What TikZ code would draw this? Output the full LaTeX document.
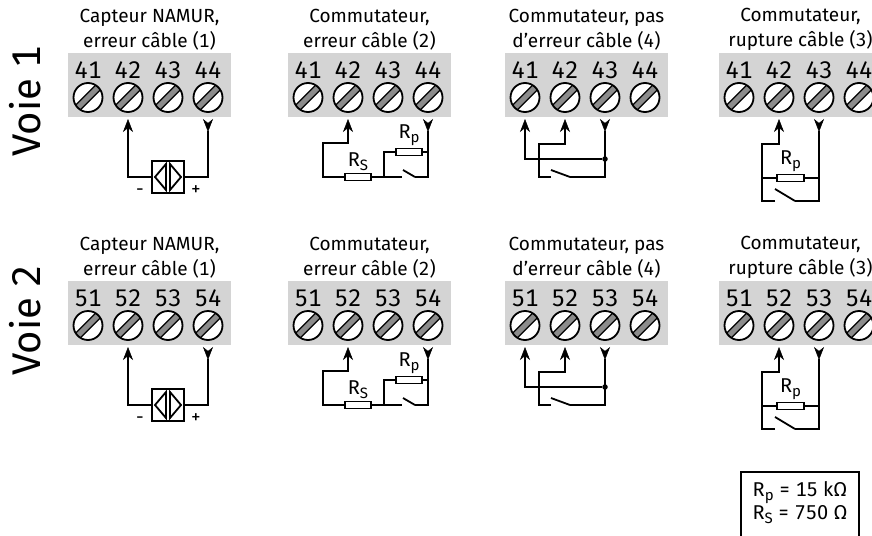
\documentclass[tikz,border=0pt]{standalone}
\usepackage{fontspec}
\setmainfont{Fira Sans}[Numbers={Lining,Monospaced}]
\usetikzlibrary{arrows.meta,positioning,calc}
\tikzset{
  every node/.append style={font=\fontsize{19}{25}\selectfont},
}
\tikzset{
  title/.style={align=center, font=\fontsize{19}{25}\selectfont},
  termno/.style={font=\fontsize{24}{24}\selectfont},
  screw/.style={circle, draw, fill=white, line width=1.8pt, minimum size=29pt, inner sep=0pt,
    path picture={
      \draw[line width=8pt] (path picture bounding box.south west) -- (path picture bounding box.north east);
      \draw[line width=5pt, black!45] (path picture bounding box.south west) -- (path picture bounding box.north east);
    }},
  wire/.style={line width=1.8pt},
  tipup/.style={-{Stealth[length=13pt,width=10pt,inset=4pt,line width=0.5pt]}},
  tipdown/.style={{Stealth[length=13pt,width=10pt,inset=4pt,line width=0.5pt,reversed]}-},
  res/.style={draw, line width=1.6pt, minimum width=26pt, minimum height=7pt, inner sep=0pt, fill=white},
  sensor/.style={draw, line width=1.8pt, minimum size=32pt, inner sep=0pt},
  rlabel/.style={font=\fontsize{20}{22}\selectfont, inner sep=1pt},
  jdot/.style={circle, fill, inner sep=0pt, minimum size=5.5pt},
  voie/.style={rotate=90, font=\fontsize{40}{40}\selectfont},
}
% lowered index of R
\newcommand\rsub[1]{\raisebox{-0.4ex}{\fontsize{15}{15}\selectfont #1}}
% terminal block: #1 first digit, #2 and #3 title lines
\newcommand\termblock[3]{%
  \fill[black!17] (0,53) rectangle (163,117);
  \node[title] (head) at (81.5,29.5) {#2\\#3};
  \foreach \i in {1,...,4} {
    \node[screw] (s\i) at (\i*40-20,97.5) {};
    \node[termno] (n\i) at (\i*40-20,70) {#1\i};
  }
}

\begin{document}
\begin{tikzpicture}[x=1pt, y=-1pt]
\useasboundingbox (0,0) rectangle (872,535);
\clip (0,0) rectangle (872,535);

\node[voie] (voie1) at (25,101) {Voie 1};
\node[voie] (voie2) at (25,320) {Voie 2};

\foreach \row/\base in {0/4, 1/5} {
  % NAMUR sensor
  \begin{scope}[shift={(68,228*\row)}]
    \termblock{\base}{Capteur NAMUR,}{erreur câble (1)}
    \coordinate (a2) at (60,119);
    \coordinate (a4) at (140,119);
    \node[sensor] (sen) at (100,177) {};
    \draw[wire] (sen.center) ++(-2,-13) -- ++(-11,13) -- ++(11,13) -- cycle;
    \draw[wire] (sen.center) ++(2,-13) -- ++(11,13) -- ++(-11,13) -- cycle;
    \draw[wire,tipup] (sen.west) -| (a2);
    \draw[wire,tipdown] (a4) |- (sen.east);
    \node (minus) at (72,192) {-};
    \node (plus) at (128,191) {+};
  \end{scope}
  % switch, cable error
  \begin{scope}[shift={(288,228*\row)}]
    \termblock{\base}{Commutateur,}{erreur câble (2)}
    \coordinate (a2) at (60,119);
    \coordinate (a4) at (140,119);
    \node[res] (rs) at (70,177) {};
    \node[rlabel, above=1pt of rs] (rsl) {R\rsub{S}};
    \node[res] (rp) at (121,152) {};
    \node[rlabel, above=1pt of rp] (rpl) {R\rsub{p}};
    \coordinate (j) at (96,177);
    \coordinate (swl) at (114,177);
    \coordinate (swr) at (127,177);
    \draw[wire,tipup] (rs.west) -| (35,143) -| (a2);
    \draw[wire] (rs.east) -- (j) -- (swl);
    \draw[wire] (j) |- (rp.west);
    \draw[wire] (swl) ++(1,-7) -- (swr);
    \draw[wire,tipdown] (a4) |- (swr);
    \draw[wire] (rp.east) -- (rp.east -| a4);
  \end{scope}
  % switch, no cable error
  \begin{scope}[shift={(505,228*\row)}]
    \termblock{\base}{Commutateur, pas}{d’erreur câble (4)}
    \coordinate (a1) at (20,119);
    \coordinate (a2) at (60,119);
    \coordinate (a3) at (100,119);
    \node[jdot] (jd) at (100,159) {};
    \coordinate (swl) at (46,177);
    \coordinate (swr) at (65,177);
    \draw[wire,tipup] (jd) -| (a1);
    \draw[wire,tipup] (swl) -| (34,144) -| (a2);
    \draw[wire] (swl) ++(0,-7) -- (swr);
    \draw[wire,tipdown] (a3) |- (swr);
  \end{scope}
  % switch, cable break
  \begin{scope}[shift={(719,228*\row)}]
    \termblock{\base}{Commutateur,}{rupture câble (3)}
    \coordinate (a2) at (60,119);
    \coordinate (a3) at (100,119);
    \node[res, minimum width=27pt] (rp) at (71.5,178) {};
    \node[rlabel, above=1pt of rp] (rpl) {R\rsub{p}};
    \coordinate (swl) at (56,201);
    \coordinate (swr) at (76,201);
    \draw[wire,tipup] (swl) -| (43,144) -| (a2);
    \draw[wire] (rp.west) -- ++(-15,0);
    \draw[wire] (swl) ++(0,-12) -- (swr);
    \draw[wire,tipdown] (a3) |- (swr);
    \draw[wire] (rp.east) -- (rp.east -| a3);
  \end{scope}
}

% values
\draw[line width=1.6pt] (741,540) |- (859,472) -- (859,540);
\node[align=center, font=\fontsize{20}{21}\selectfont] (values) at (800,502.5)
  {R\rsub{p} = 15 kΩ\\R\rsub{S} = 750 Ω};
\end{tikzpicture}
\end{document}
